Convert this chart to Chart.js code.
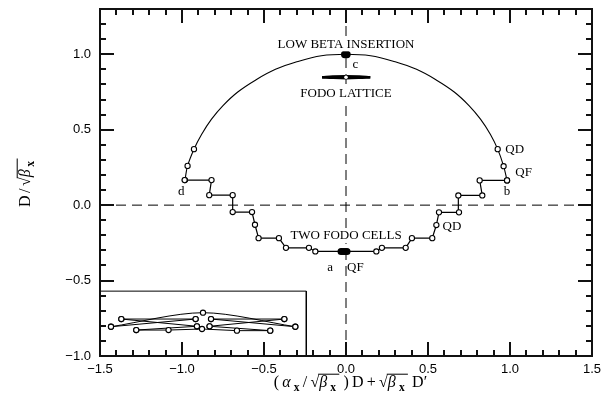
<!DOCTYPE html>
<html lang="en">
<head>
  <meta charset="UTF-8" />
  <title>Dispersion phase space</title>
  <script src="https://cdn.jsdelivr.net/npm/chart.js"></script>
  <style>
    body { margin: 0; padding: 0; background: white; }
    canvas { display: block; }
  </style>
</head>
<body>
<canvas id="chart" width="613" height="399"></canvas>

<script>
// axis ticks
const xTicks = [-1.5, -1.0, -0.5, 0.0, 0.5, 1.0, 1.5];
const yTicks = [-1.0, -0.5, 0.0, 0.5, 1.0];
const xMinor = [-1.4, -1.3, -1.2, -1.1, -0.9, -0.8, -0.7, -0.6, -0.4, -0.3, -0.2, -0.1,
                0.1, 0.2, 0.3, 0.4, 0.6, 0.7, 0.8, 0.9, 1.1, 1.2, 1.3, 1.4];
const yMinor = [-0.9, -0.8, -0.7, -0.6, -0.4, -0.3, -0.2, -0.1, 0.1, 0.2, 0.3, 0.4,
                0.6, 0.7, 0.8, 0.9, 1.1, 1.2, 1.3];

// low beta insertion arc
const arcX = [-0.982, -0.966, -0.927, -0.88, -0.82, -0.75, -0.66, -0.55, -0.43, -0.30, -0.15, 0.0,
              0.15, 0.30, 0.43, 0.55, 0.66, 0.75, 0.82, 0.88, 0.925, 0.961, 0.982];
const arcY = [0.166, 0.26, 0.371, 0.47, 0.57, 0.66, 0.75, 0.83, 0.90, 0.95, 0.99, 1.0,
              0.99, 0.95, 0.90, 0.83, 0.75, 0.66, 0.57, 0.47, 0.371, 0.258, 0.164];
const arcMarkX = [-0.982, -0.966, -0.927, 0.925, 0.961, 0.982];
const arcMarkY = [0.166, 0.26, 0.371, 0.371, 0.258, 0.164];

// two fodo cells (stepped path)
const stepX = [-0.984, -0.82, -0.834, -0.691, -0.691, -0.573, -0.555, -0.533, -0.409, -0.366, -0.226, -0.187,
               0.185, 0.219, 0.364, 0.402, 0.526, 0.551, 0.567, 0.689, 0.685, 0.831, 0.815, 0.982];
const stepY = [0.166, 0.166, 0.066, 0.066, -0.046, -0.046, -0.13, -0.219, -0.219, -0.283, -0.283, -0.307,
               -0.307, -0.283, -0.283, -0.219, -0.219, -0.132, -0.048, -0.048, 0.064, 0.064, 0.164, 0.164];

// point a (QF) and point c
const aX = [-0.03, -0.018, -0.006, 0.006];
const aY = [-0.307, -0.307, -0.307, -0.307];
const cX = [-0.008, 0.006];
const cY = [0.998, 0.998];

// fodo lattice (thin lens near top)
const fodoX = [-0.146, -0.08, 0.0, 0.08, 0.148];
const fodoUpY = [0.848, 0.852, 0.854, 0.852, 0.848];
const fodoLoY = [0.848, 0.844, 0.842, 0.844, 0.848];

// inset box and its curves
const boxX = [-1.5, -0.242, -0.242];
const boxY = [-0.57, -0.57, -1.0];
const insetArcX = [-1.433, -0.872, -0.309];
const insetArcY = [-0.806, -0.713, -0.806];
const insetL1X = [-1.433, -0.917];      const insetL1Y = [-0.806, -0.755];
const insetL2X = [-1.37, -0.917];       const insetL2Y = [-0.755, -0.755];
const insetL3X = [-1.37, -0.909];       const insetL3Y = [-0.755, -0.803];
const insetR1X = [-0.309, -0.823];      const insetR1Y = [-0.806, -0.755];
const insetR2X = [-0.376, -0.823];      const insetR2Y = [-0.755, -0.755];
const insetR3X = [-0.376, -0.832];      const insetR3Y = [-0.755, -0.803];
const insetLowX = [-1.279, -1.082, -0.878, -0.665, -0.462];
const insetLowY = [-0.828, -0.828, -0.821, -0.832, -0.832];
const insetLowL2X = [-1.279, -0.909];   const insetLowL2Y = [-0.828, -0.803];
const insetLowR2X = [-0.462, -0.832];   const insetLowR2Y = [-0.832, -0.803];

// annotations
const notes = [
  { t: "LOW BETA INSERTION", x: 0.0, y: 1.066, align: "center", bg: true },
  { t: "c", x: 0.057, y: 0.934, align: "center" },
  { t: "FODO LATTICE", x: 0.0, y: 0.737, align: "center", bg: true },
  { t: "QD", x: 0.971, y: 0.371, align: "left" },
  { t: "QF", x: 1.032, y: 0.219, align: "left" },
  { t: "b", x: 0.982, y: 0.088, align: "center" },
  { t: "d", x: -1.004, y: 0.088, align: "center" },
  { t: "TWO FODO CELLS", x: 0.0, y: -0.205, align: "center", bg: true },
  { t: "a", x: -0.096, y: -0.417, align: "center" },
  { t: "QF", x: 0.057, y: -0.417, align: "center" },
  { t: "QD", x: 0.646, y: -0.144, align: "center" }
];

const X_MIN = -1.5, X_MAX = 1.5, Y_MIN = -1.0, Y_MAX = 1.3;

const pts = (xs, ys) => xs.map((x, i) => ({ x: x, y: ys[i] }));

function series(xs, ys, extra) {
  return Object.assign({
    data: pts(xs, ys),
    showLine: true,
    borderColor: "black",
    borderWidth: 1.2,
    pointRadius: 0,
    fill: false
  }, extra || {});
}
const openMarks = {
  pointRadius: 2.6,
  pointBorderWidth: 1.1,
  pointBorderColor: "black",
  pointBackgroundColor: "white"
};

const datasets = [
  series(stepX, stepY, openMarks),
  series(arcMarkX, arcMarkY, Object.assign({ showLine: false }, openMarks)),
  series(arcX, arcY, { tension: 0.4, borderWidth: 1.1 }),
  series(aX, aY, { borderWidth: 3.5, pointRadius: 1.8, pointBackgroundColor: "black", pointBorderColor: "black" }),
  series(cX, cY, { borderWidth: 3, pointRadius: 2.2, pointBackgroundColor: "black", pointBorderColor: "black" }),
  series([0.0], [0.848], { showLine: false, pointRadius: 1.8, pointBorderWidth: 0, pointBackgroundColor: "white", pointBorderColor: "white" }),
  series(fodoX, fodoUpY, { borderWidth: 2.6, tension: 0.4 }),
  series(fodoX, fodoLoY, { borderWidth: 2.6, tension: 0.4 }),
  series(boxX, boxY, { borderWidth: 1 }),
  series(insetArcX, insetArcY, Object.assign({ tension: 0.3, borderWidth: 1 }, openMarks)),
  series(insetL1X, insetL1Y, Object.assign({ borderWidth: 1 }, openMarks)),
  series(insetL2X, insetL2Y, Object.assign({ borderWidth: 1 }, openMarks)),
  series(insetL3X, insetL3Y, Object.assign({ borderWidth: 1 }, openMarks)),
  series(insetR1X, insetR1Y, Object.assign({ borderWidth: 1 }, openMarks)),
  series(insetR2X, insetR2Y, Object.assign({ borderWidth: 1 }, openMarks)),
  series(insetR3X, insetR3Y, Object.assign({ borderWidth: 1 }, openMarks)),
  series(insetLowX, insetLowY, Object.assign({ borderWidth: 1 }, openMarks)),
  series(insetLowL2X, insetLowL2Y, Object.assign({ borderWidth: 1 }, openMarks)),
  series(insetLowR2X, insetLowR2Y, Object.assign({ borderWidth: 1 }, openMarks)),
  series([-1.5, 1.5], [0, 0], { borderWidth: 1, borderDash: [10, 6], order: 10 }),
  series([0, 0], [-1.0, 1.3], { borderWidth: 1, borderDash: [10, 6], order: 10 })
];

// math text helper: parts {t, it, sub, b} or {sqrt: [...]}
const SERIF = '"Liberation Serif", "DejaVu Serif", serif';
function partFont(p, size) {
  const s = p.sub ? size * 0.72 : size;
  return (p.it ? "italic " : "") + (p.b ? "bold " : "") + s.toFixed(1) + "px " + SERIF;
}
function widthOf(ctx, parts, size, gap) {
  let w = 0;
  for (const p of parts) {
    if (p.sqrt) {
      ctx.font = partFont({}, size);
      w += ctx.measureText("\u221A").width + widthOf(ctx, p.sqrt, size, gap) + gap + 1;
    } else {
      ctx.font = partFont(p, size);
      w += ctx.measureText(p.t).width + gap;
    }
  }
  return w;
}
function drawParts(ctx, parts, x, y, size, gap) {
  for (const p of parts) {
    if (p.sqrt) {
      ctx.font = partFont({}, size);
      ctx.fillText("\u221A", x, y);
      const sw = ctx.measureText("\u221A").width;
      const inner = widthOf(ctx, p.sqrt, size, gap);
      ctx.fillRect(x + sw - 1, y - size * 0.8 - 0.5, inner + 1, 1);
      drawParts(ctx, p.sqrt, x + sw, y, size, gap);
      x += sw + inner + gap + 1;
    } else {
      ctx.font = partFont(p, size);
      ctx.fillText(p.t, x, y + (p.sub ? size * 0.28 : 0));
      x += ctx.measureText(p.t).width + gap;
    }
  }
}
function drawMath(ctx, parts, cx, y, size, gap) {
  const w = widthOf(ctx, parts, size, gap);
  drawParts(ctx, parts, cx - w / 2, y, size, gap);
}

const xTitle = [
  { t: "(" }, { t: "\u03B1", it: true }, { t: "x", sub: true, b: true }, { t: "/" },
  { sqrt: [{ t: "\u03B2", it: true }, { t: "x", sub: true, b: true }] },
  { t: ")" }, { t: "D" }, { t: "+" },
  { sqrt: [{ t: "\u03B2", it: true }, { t: "x", sub: true, b: true }] },
  { t: "D\u2032" }
];
const yTitle = [
  { t: "D" }, { t: "/" },
  { sqrt: [{ t: "\u03B2", it: true }, { t: "x", sub: true, b: true }] }
];

const framePlugin = {
  id: "frame",
  afterDatasetsDraw(chart) {
    const ctx = chart.ctx;
    const xs = chart.scales.x, ys = chart.scales.y;
    ctx.save();
    ctx.fillStyle = "black";
    ctx.textBaseline = "middle";
    ctx.font = "13px " + SERIF;
    for (const n of notes) {
      const px = xs.getPixelForValue(n.x), py = ys.getPixelForValue(n.y);
      ctx.textAlign = n.align;
      if (n.bg) {
        const w = ctx.measureText(n.t).width;
        ctx.fillStyle = "white";
        ctx.fillRect(px - w / 2 - 2, py - 7, w + 4, 14);
        ctx.fillStyle = "black";
      }
      ctx.fillText(n.t, px, py);
    }

    // axis titles
    ctx.textAlign = "left";
    ctx.textBaseline = "alphabetic";
    drawMath(ctx, xTitle, 352, 387, 16, 3.2);
    ctx.translate(30, 181);
    ctx.rotate(-Math.PI / 2);
    drawMath(ctx, yTitle, 0, 0, 16, 2.5);
    ctx.restore();
  },
  afterDraw(chart) {
    const ctx = chart.ctx, a = chart.chartArea;
    const xs = chart.scales.x, ys = chart.scales.y;
    ctx.save();
    ctx.fillStyle = "#111";
    // frame
    ctx.fillRect(a.left - 1, a.top - 1, a.right - a.left + 2, 2);
    ctx.fillRect(a.left - 1, a.bottom - 1, a.right - a.left + 2, 2);
    ctx.fillRect(a.left - 1, a.top - 1, 2, a.bottom - a.top + 2);
    ctx.fillRect(a.right - 1, a.top - 1, 2, a.bottom - a.top + 2);
    // inward ticks: major 14px, minor 6px
    const xMark = (v, len) => {
      const px = Math.round(xs.getPixelForValue(v));
      ctx.fillRect(px - 1, a.bottom - len, 2, len);
      ctx.fillRect(px - 1, a.top, 2, len);
    };
    const yMark = (v, len) => {
      const py = Math.round(ys.getPixelForValue(v));
      ctx.fillRect(a.left, py - 1, len, 2);
      ctx.fillRect(a.right - len, py - 1, len, 2);
    };
    xTicks.forEach(v => xMark(v, 14));
    xMinor.forEach(v => xMark(v, 6));
    yTicks.forEach(v => yMark(v, 14));
    yMinor.forEach(v => yMark(v, 6));
    ctx.restore();
  }
};

const fmt = v => (v < 0 ? "\u2212" : "") + Math.abs(v).toFixed(1);

new Chart(document.getElementById("chart"), {
  type: "scatter",
  data: { datasets: datasets },
  options: {
    responsive: false,
    animation: false,
    layout: { autoPadding: false, padding: { left: 0, right: 21, top: 9, bottom: 0 } },
    plugins: { legend: { display: false }, tooltip: { enabled: false } },
    scales: {
      x: {
        type: "linear", min: X_MIN, max: X_MAX,
        afterBuildTicks: s => { s.ticks = xTicks.map(v => ({ value: v })); },
        afterFit: s => { s.height = 43; s.paddingLeft = 0; s.paddingRight = 0; },
        grid: { display: false, drawTicks: false },
        border: { display: false },
        ticks: {
          color: "black", padding: 6, maxRotation: 0, autoSkip: false,
          font: { family: '"Liberation Sans", Arial, sans-serif', size: 13 },
          callback: fmt
        }
      },
      y: {
        type: "linear", min: Y_MIN, max: Y_MAX,
        afterBuildTicks: s => { s.ticks = yTicks.map(v => ({ value: v })); },
        afterFit: s => { s.width = 100; s.paddingTop = 0; s.paddingBottom = 0; },
        grid: { display: false, drawTicks: false },
        border: { display: false },
        ticks: {
          color: "black", padding: 9, autoSkip: false,
          font: { family: '"Liberation Sans", Arial, sans-serif', size: 13 },
          callback: fmt
        }
      }
    }
  },
  plugins: [framePlugin]
});
</script>
</body>
</html>
